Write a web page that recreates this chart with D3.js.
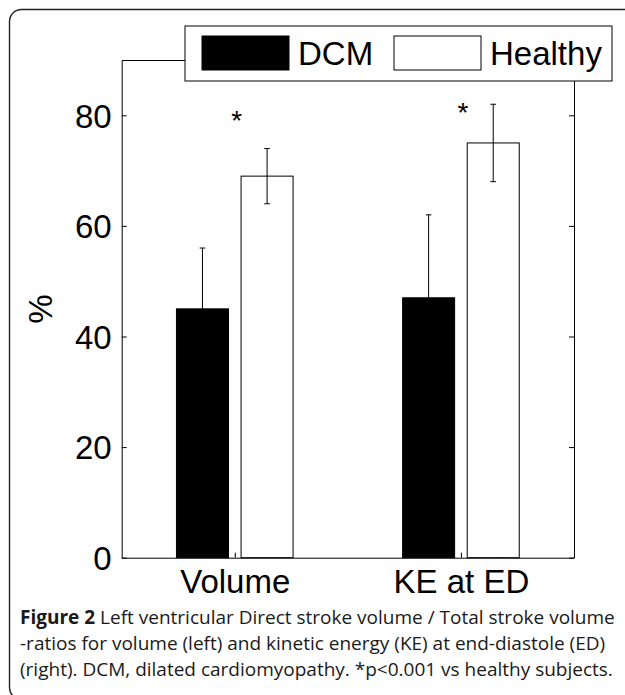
<!DOCTYPE html>
<html lang="en">
<head>
  <meta charset="UTF-8">
  <title>Figure 2</title>
  <style>
    body { margin: 0; background: #fff; }
    svg { display: block; }
  </style>
</head>
<body>
<svg width="625" height="695"></svg>

<script src="https://cdn.jsdelivr.net/npm/d3@7"></script>
<script>
  // data
  var categories = ['Volume', 'KE at ED'];
  var seriesNames = ['DCM', 'Healthy'];
  var dcmMean = [45, 47];
  var dcmSd = [11, 15];
  var healthyMean = [69, 75];
  var healthySd = [5, 7];
  var yTicks = [0, 20, 40, 60, 80];
  var sigLevel = [80.3, 81.7];   // where the * marks sit
  var captionLines = [
    ['Figure 2', ' Left ventricular Direct stroke volume / Total stroke volume'],
    ['', '-ratios for volume (left) and kinetic energy (KE) at end-diastole (ED)'],
    ['', '(right). DCM, dilated cardiomyopathy. *p<0.001 vs healthy subjects.']
  ];

  var svg = d3.select('svg');
  var marge = {top: 60, left: 121.7, right: 574, bottom: 557.7};
  var axisFont = '"Liberation Sans", Arial, Helvetica, sans-serif';

  // outer rounded frame
  svg.append('rect')
    .attr('x', 9.5).attr('y', 9.5).attr('width', 640).attr('height', 690)
    .attr('rx', 12).attr('ry', 12)
    .attr('fill', 'none').attr('stroke', '#222').attr('stroke-width', 1.4);

  var x = d3.scaleLinear().domain([0.5, 2.5]).range([marge.left, marge.right]);
  var y = d3.scaleLinear().domain([0, 90]).range([marge.bottom, marge.top]);

  var barOffset = 1 / 7, barWidth = 0.23;
  var series = [
    {name: seriesNames[0], mean: dcmMean, sd: dcmSd, off: -barOffset, fill: '#000'},
    {name: seriesNames[1], mean: healthyMean, sd: healthySd, off: barOffset, fill: '#fff'}
  ];

  var g = svg.append('g');

  // bars
  series.forEach(function (s) {
    g.selectAll(null).data(s.mean).enter().append('rect')
      .attr('x', function (d, i) { return x(i + 1 + s.off - barWidth / 2); })
      .attr('y', function (d) { return y(d); })
      .attr('width', function () { return x(1 + barWidth) - x(1); })
      .attr('height', function (d) { return y(0) - y(d); })
      .attr('fill', s.fill).attr('stroke', '#000').attr('stroke-width', 1);
  });

  // error bars
  var cap = 2.8;
  series.forEach(function (s) {
    var eg = g.selectAll(null).data(s.mean).enter().append('g')
      .attr('stroke', '#000').attr('stroke-width', 1);
    eg.append('line')
      .attr('x1', function (d, i) { return x(i + 1 + s.off); })
      .attr('x2', function (d, i) { return x(i + 1 + s.off); })
      .attr('y1', function (d, i) { return y(d - s.sd[i]); })
      .attr('y2', function (d, i) { return y(d + s.sd[i]); });
    [-1, 1].forEach(function (sign) {
      eg.append('line')
        .attr('x1', function (d, i) { return x(i + 1 + s.off) - cap; })
        .attr('x2', function (d, i) { return x(i + 1 + s.off) + cap; })
        .attr('y1', function (d, i) { return y(d + sign * s.sd[i]); })
        .attr('y2', function (d, i) { return y(d + sign * s.sd[i]); });
    });
  });

  // axes (box on, ticks pointing inward)
  var yAxisL = d3.axisLeft(y).tickValues(yTicks).tickSizeInner(-5).tickSizeOuter(0).tickPadding(10);
  var yAxisR = d3.axisRight(y).tickValues(yTicks).tickSizeInner(-5).tickSizeOuter(0).tickFormat('');
  var xAxisB = d3.axisBottom(x).tickValues([1, 2]).tickSizeInner(-5).tickSizeOuter(0)
    .tickFormat(function (d) { return categories[d - 1]; }).tickPadding(12);
  var xAxisT = d3.axisTop(x).tickValues([1, 2]).tickSizeInner(-5).tickSizeOuter(0).tickFormat('');

  function styleAxis(sel) {
    sel.select('.domain').attr('stroke', '#000').attr('stroke-width', 1);
    sel.selectAll('.tick line').attr('stroke', '#000').attr('stroke-width', 1);
    sel.selectAll('.tick text').attr('fill', '#000')
      .style('font-family', axisFont).style('font-size', '33px');
  }

  g.append('g').attr('transform', 'translate(' + marge.left + ',0)').call(yAxisL).call(styleAxis)
    .selectAll('.tick text').attr('dy', '0.36em');
  g.append('g').attr('transform', 'translate(' + marge.right + ',0)').call(yAxisR).call(styleAxis);
  g.append('g').attr('transform', 'translate(0,' + marge.bottom + ')').call(xAxisB).call(styleAxis)
    .selectAll('.tick text').attr('dy', '0.71em').attr('y', 12);
  g.append('g').attr('transform', 'translate(0,' + marge.top + ')').call(xAxisT).call(styleAxis);

  // y label
  svg.append('text')
    .attr('transform', 'translate(52,309) rotate(-90)')
    .attr('text-anchor', 'middle')
    .style('font-family', axisFont).style('font-size', '33px')
    .text('%');

  // significance marks
  g.selectAll('.sig').data(sigLevel).enter().append('text')
    .attr('class', 'sig')
    .attr('x', function (d, i) { return x(i + 1) + 2; })
    .attr('y', function (d) { return y(d) + 16; })
    .attr('text-anchor', 'middle')
    .style('font-family', axisFont).style('font-size', '28px')
    .text('*');

  // legend
  var lg = svg.append('g');
  lg.append('rect').attr('x', 185).attr('y', 26).attr('width', 427).attr('height', 55)
    .attr('fill', '#fff').attr('stroke', '#000').attr('stroke-width', 1);
  var legendX = [202, 394];
  series.forEach(function (s, i) {
    lg.append('rect').attr('x', legendX[i]).attr('y', 36).attr('width', 87).attr('height', 34)
      .attr('fill', s.fill).attr('stroke', '#000').attr('stroke-width', 1);
    lg.append('text').attr('x', legendX[i] + 96).attr('y', 65)
      .style('font-family', axisFont).style('font-size', '33px')
      .text(s.name);
  });

  // caption
  var capG = svg.append('g')
    .style('font-family', '"Open Sans", "Noto Sans", sans-serif')
    .style('font-size', '19px').attr('fill', '#1a1a1a');
  captionLines.forEach(function (ln, i) {
    var t = capG.append('text').attr('x', 20).attr('y', 624 + i * 25.8);
    if (ln[0]) t.append('tspan').style('font-weight', 'bold').text(ln[0]);
    t.append('tspan').text(ln[1]);
  });
</script>
</body>
</html>
